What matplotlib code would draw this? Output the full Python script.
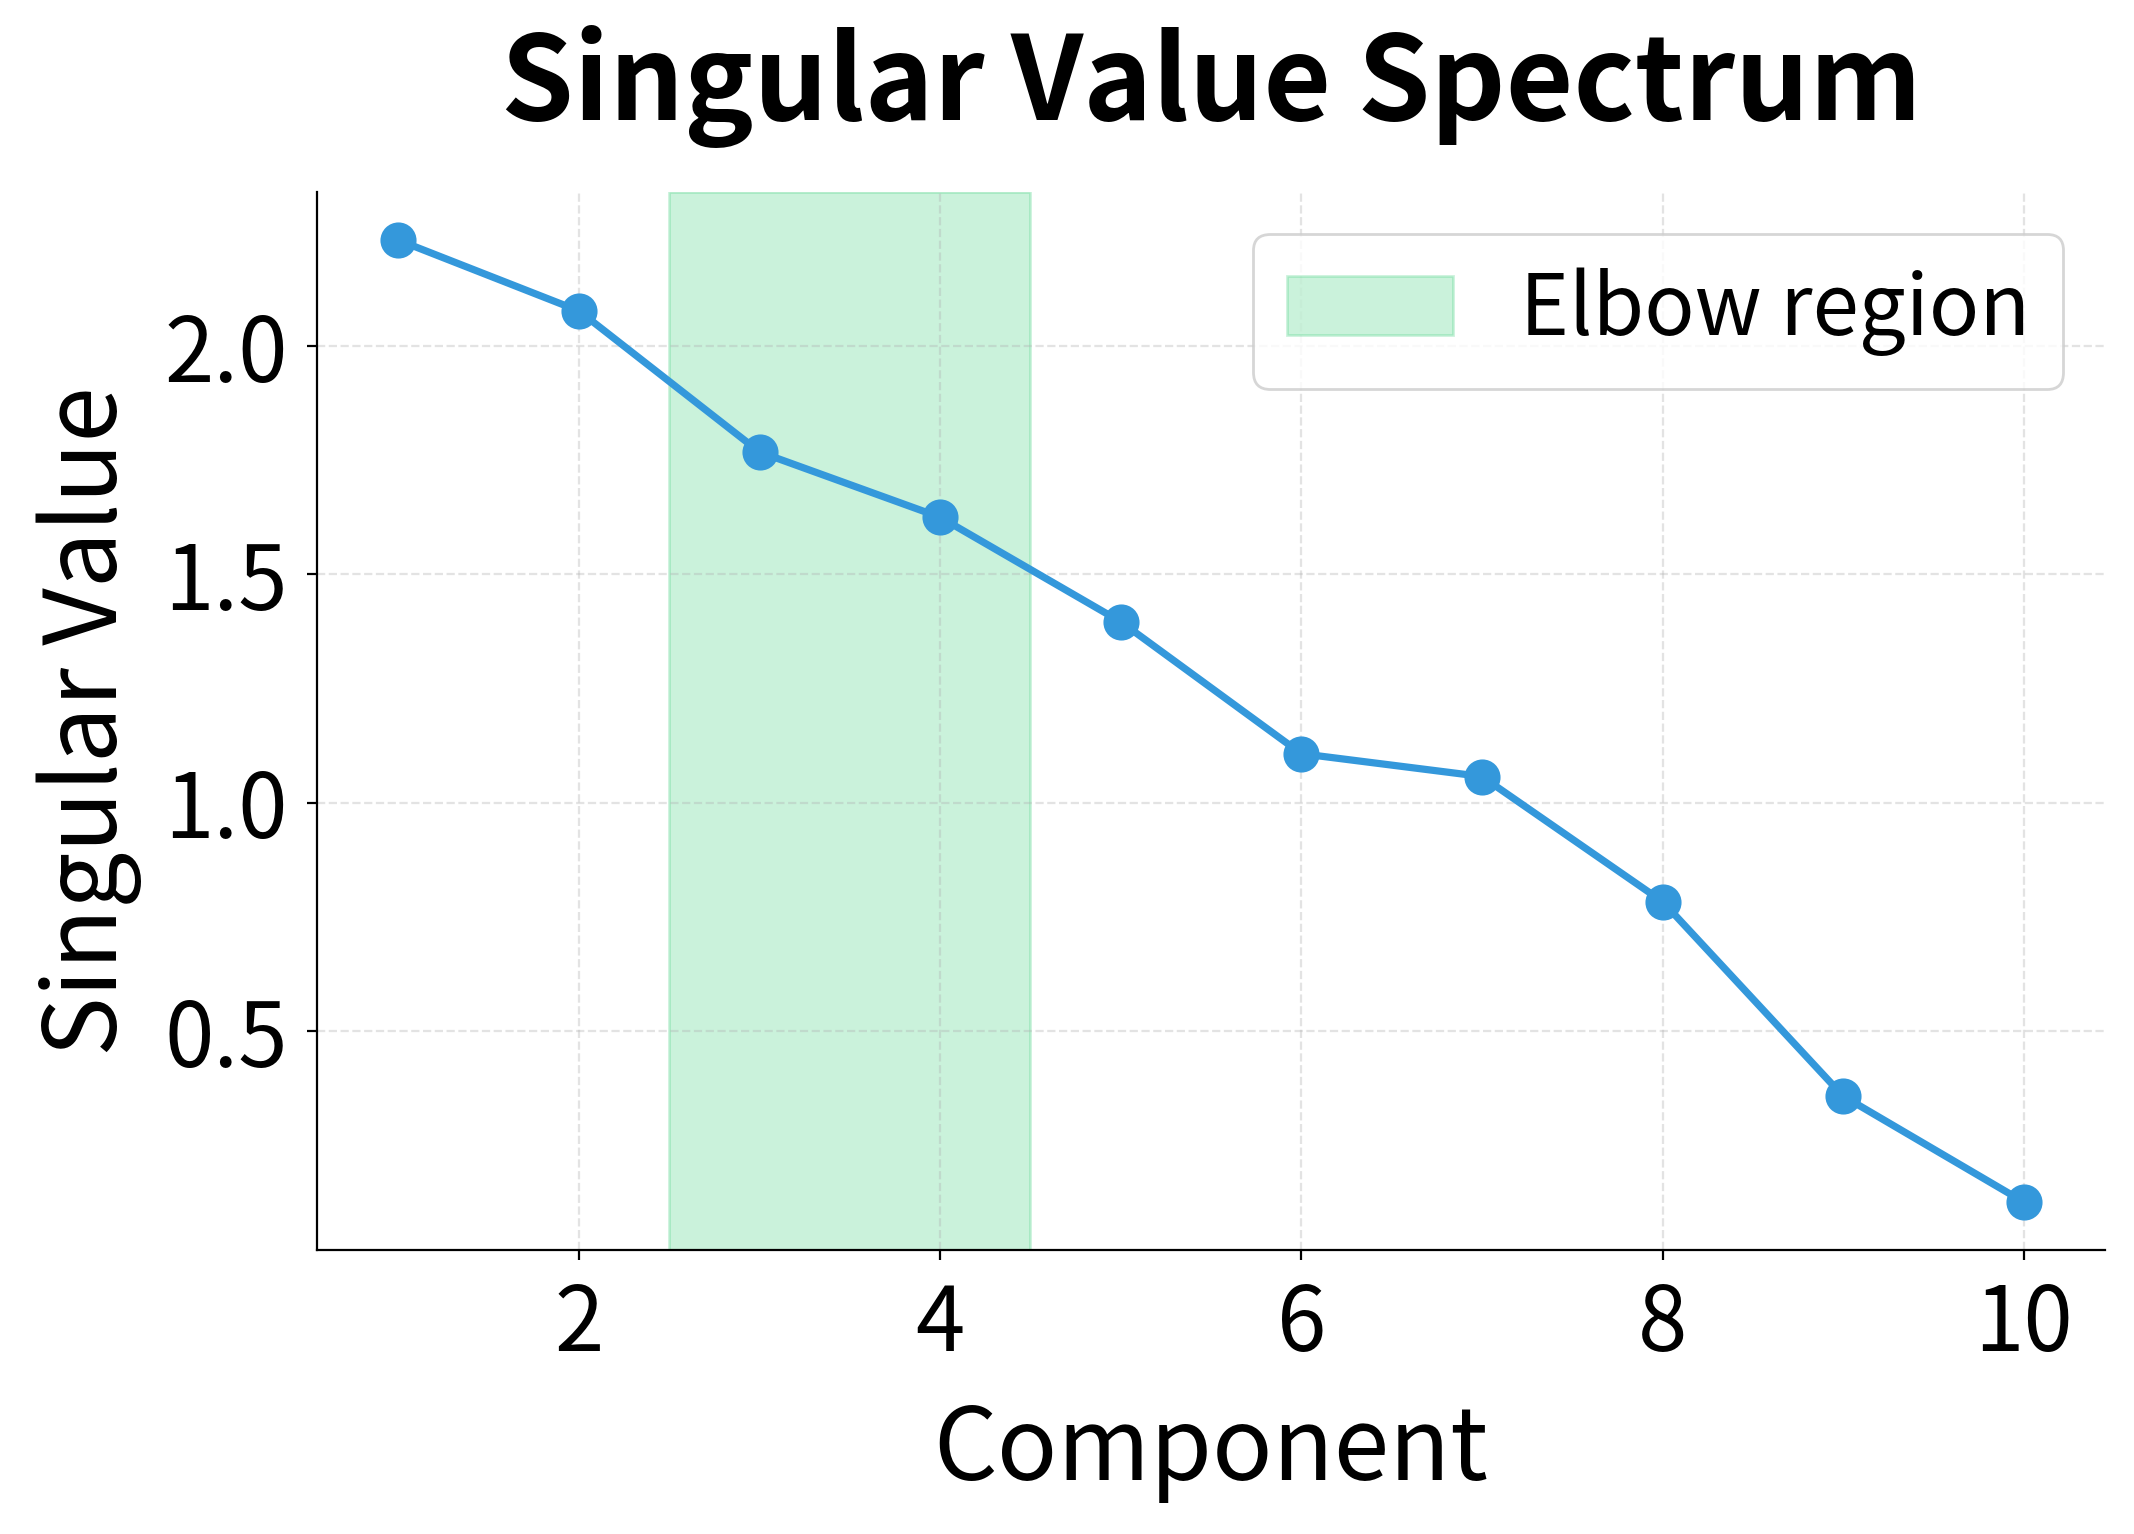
import matplotlib
matplotlib.use("Agg")
import matplotlib.pyplot as plt

plt.rcParams['font.family'] = ['Noto Sans CJK SC', 'DejaVu Sans']

# valori
components = [1, 2, 3, 4, 5, 6, 7, 8, 9, 10]
singular_values = [2.232, 2.077, 1.768, 1.625, 1.396, 1.107, 1.057, 0.783, 0.357, 0.125]
elbow_start = 2.5
elbow_end = 4.5

fig, ax = plt.subplots(figsize=(10.67, 7.67), dpi=200)
fig.subplots_adjust(left=0.1486, right=0.9864, top=0.8748, bottom=0.1851)

ax.axvspan(elbow_start, elbow_end, color='#2ecc71', alpha=0.25, label='Elbow region')
ax.plot(components, singular_values, '-o', color='#3498db', linewidth=2.6, markersize=12)

ax.grid(True, linestyle='--', alpha=0.35)
ax.spines['top'].set_visible(False)
ax.spines['right'].set_visible(False)

ax.tick_params(labelsize=32, pad=7)
ax.set_xlabel('Component', fontsize=36, labelpad=10)
ax.set_ylabel('Singular Value', fontsize=36, labelpad=8)
ax.set_title('Singular Value Spectrum', fontsize=42, fontweight='bold', pad=26)
ax.legend(loc='upper right', fontsize=30)

fig.savefig('out.png', dpi=200)
